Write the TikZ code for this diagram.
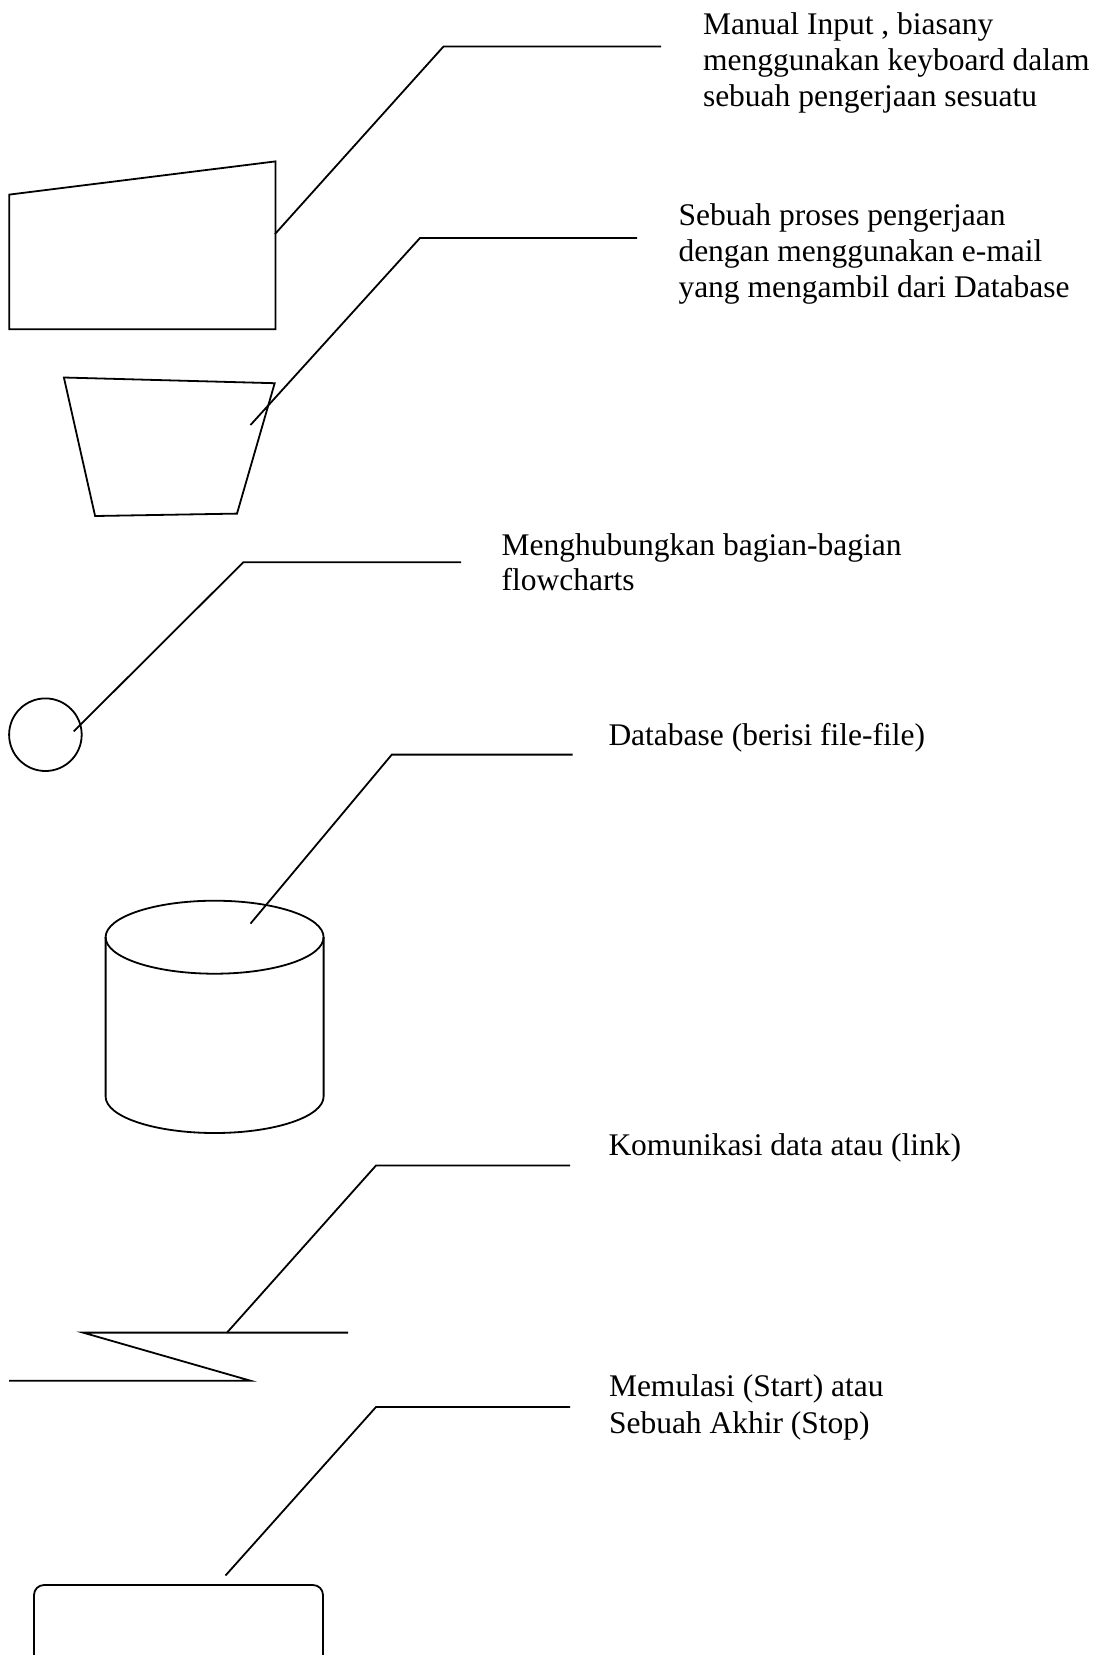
\documentclass[tikz,border=0pt]{standalone}
\usepackage{fontspec}
\setmainfont{Liberation Serif}
\begin{document}
\begin{tikzpicture}[x=1pt,y=-1pt,
  line/.style={draw=black,line width=1.8pt,line join=miter},
  leader/.style={draw=black,line width=1.8pt},
  lbl/.style={anchor=base west,inner sep=0pt,outer sep=0pt,font=\fontsize{31.5}{36.2}\selectfont}]
\useasboundingbox (0,0) rectangle (1107,1655);
\clip (0,0) rectangle (1107,1655);
% texts
\node[lbl] (t1a) at (703,34.3) {Manual Input , biasany};
\node[lbl] (t1b) at (703,70.5) {menggunakan keyboard dalam};
\node[lbl] (t1c) at (703,106.7) {sebuah pengerjaan sesuatu};
\node[lbl] (t2a) at (678.5,225) {Sebuah proses pengerjaan};
\node[lbl] (t2b) at (678.5,261.5) {dengan menggunakan e-mail};
\node[lbl] (t2c) at (678.5,297.5) {yang mengambil dari Database};
\node[lbl] (t3a) at (501.7,555) {Menghubungkan bagian-bagian};
\node[lbl] (t3b) at (501.7,590.5) {flowcharts};
\node[lbl] (t4) at (608.5,745) {Database (berisi file-file)};
\node[lbl] (t5) at (608.5,1155) {Komunikasi data atau (link)};
\node[lbl] (t6a) at (609,1396.7) {Memulasi (Start) atau};
\node[lbl] (t6b) at (609,1433) {Sebuah Akhir (Stop)};
% shapes
\draw[line] (9.2,194.6) -- (275.4,161.4) -- (275.4,329.3) -- (9.2,329.3) -- cycle;
\draw[line] (63.9,377.5) -- (274.7,383.2) -- (237,513.6) -- (95.1,516) -- cycle;
\draw[line] (45.4,734.7) circle[radius=36.3];
\draw[line] (214.6,937.2) ellipse[x radius=109,y radius=36.5];
\draw[line] (105.6,937.2) -- (105.6,1096.5) arc[start angle=180,end angle=360,x radius=109,y radius=-36.5] -- (323.6,937.2);
\draw[line] (348,1332.6) -- (83,1332.6) -- (250.5,1380.7) -- (9.2,1380.7);
\draw[line,rounded corners=10pt] (34,1585) rectangle (323,1668);
% leader coordinates
\coordinate (e1) at (275,234);   \coordinate (k1) at (443.6,46.4);  \coordinate (h1) at (661,46.4);
\coordinate (e2) at (250.5,425); \coordinate (k2) at (420,238);     \coordinate (h2) at (637,238);
\coordinate (e3) at (73.8,731.3);\coordinate (k3) at (243.4,562.2); \coordinate (h3) at (461,562.2);
\coordinate (e4) at (250.5,923.6);\coordinate (k4) at (391.8,754.6);\coordinate (h4) at (572.7,754.6);
\coordinate (e5) at (227,1332.6);\coordinate (k5) at (376,1165.5);  \coordinate (h5) at (570,1165.5);
\coordinate (e6) at (225.5,1575.5);\coordinate (k6) at (376,1407);  \coordinate (h6) at (570,1407);
\foreach \i in {1,...,6} {\draw[leader] (e\i) -- (k\i) -- (h\i);}
\end{tikzpicture}
\end{document}
